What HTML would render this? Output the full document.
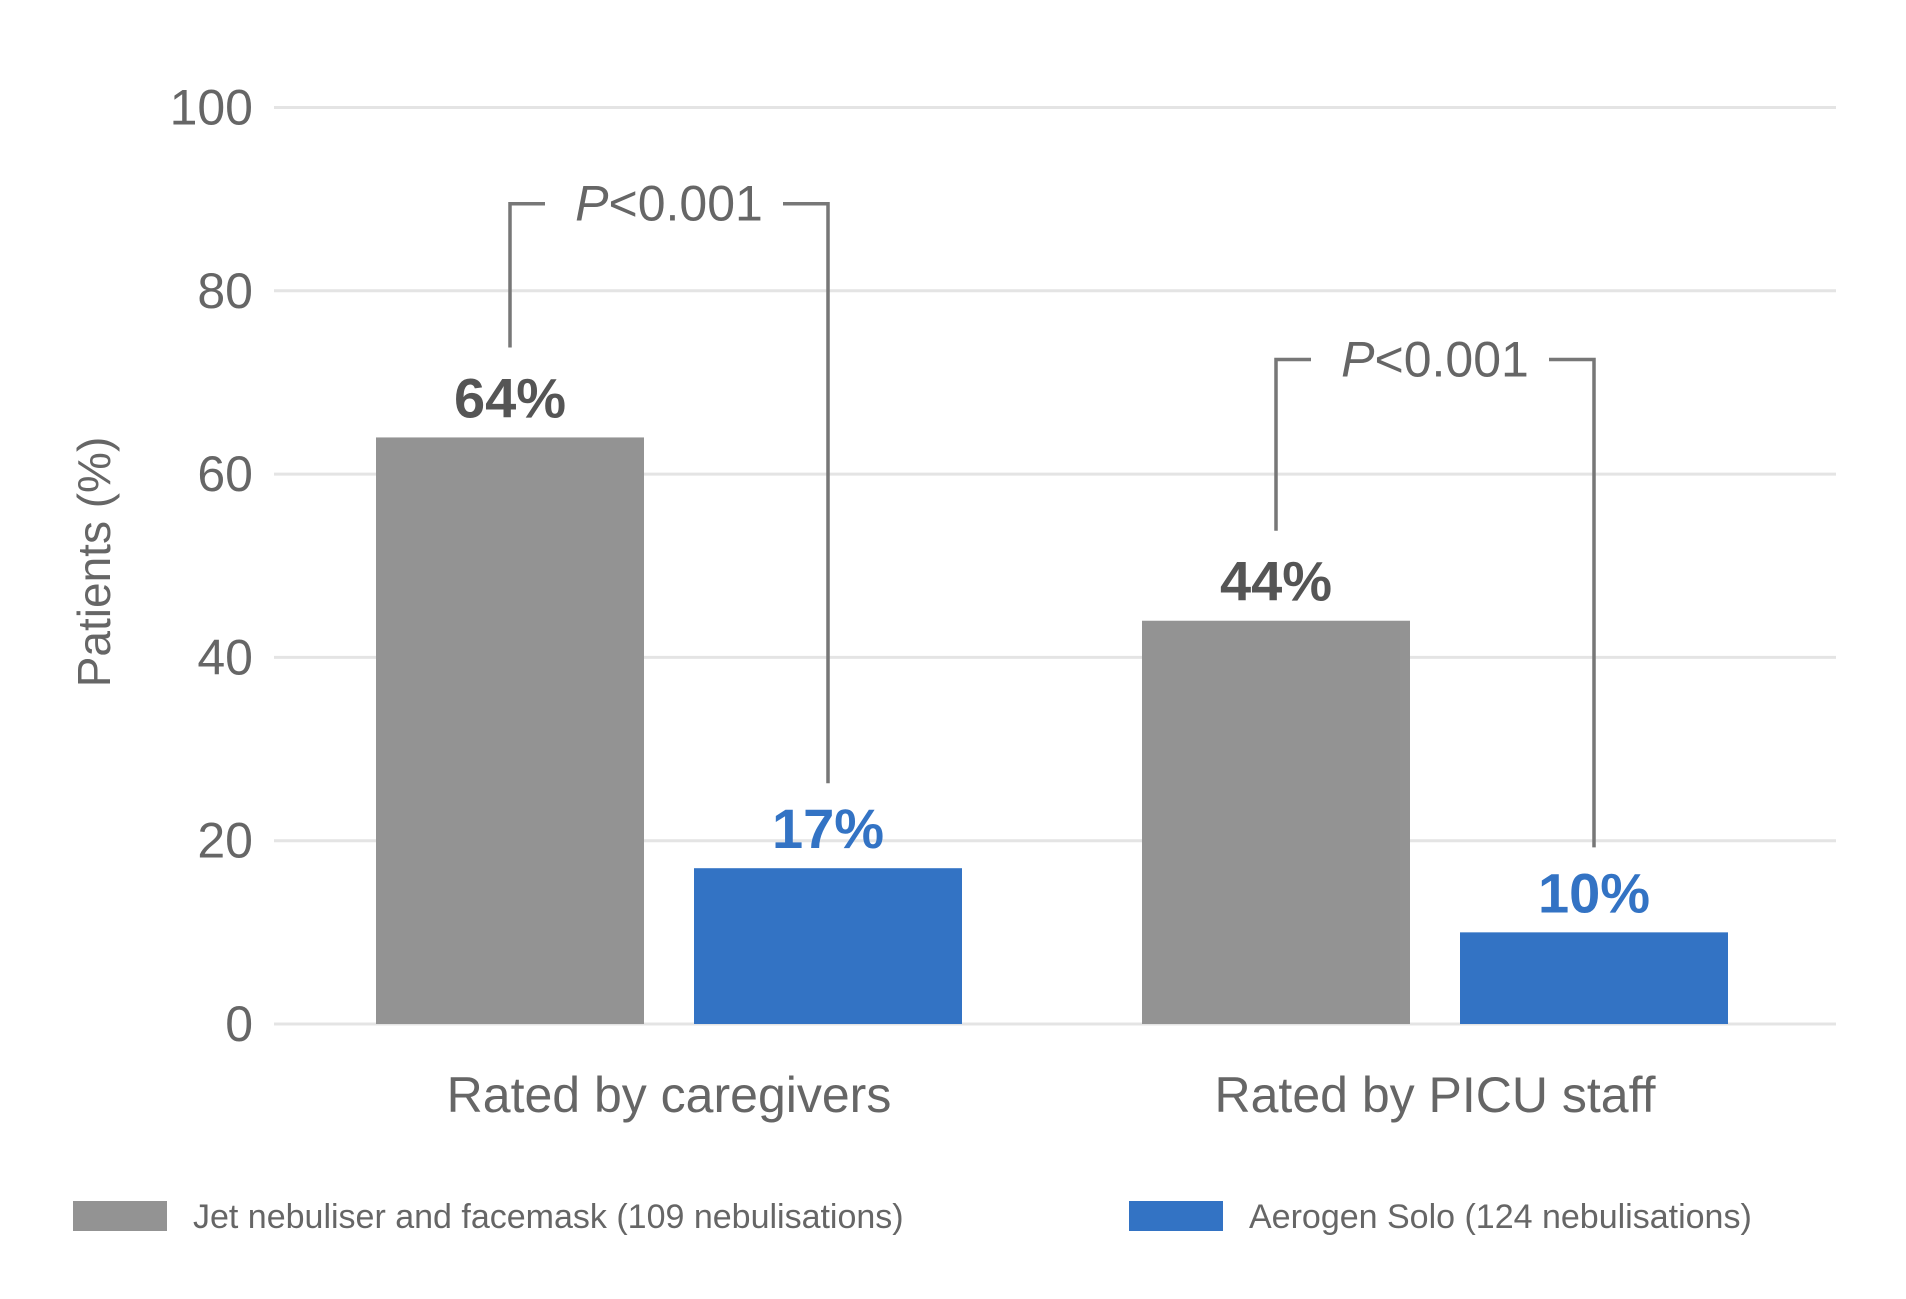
<!DOCTYPE html>
<html><head><meta charset="utf-8"><style>
html,body{margin:0;padding:0;background:#fff;}
svg{display:block;font-family:"Liberation Sans",sans-serif;}
</style></head><body>
<svg id="chart" width="1906" height="1299"></svg>
<script>
const categories = ["Rated by caregivers", "Rated by PICU staff"];
const jetValues = [64, 17 * 0 + 64, 44].slice(1);
const soloValues = [17, 10];
const yTicks = [0, 20, 40, 60, 80, 100];
const seriesNames = ["Jet nebuliser and facemask (109 nebulisations)", "Aerogen Solo (124 nebulisations)"];
const pLabels = ["P<0.001", "P<0.001"];
const pTopValues = [89.5, 72.5];

const NS = "http://www.w3.org/2000/svg";
const svg = document.getElementById("chart");
const y0 = 1024, y100 = 107.5;
const yScale = v => y0 - (v / 100) * (y0 - y100);
const groupLeft = [376, 1142];
const barW = 268, gap = 50;
const xJet = i => groupLeft[i];
const xSolo = i => groupLeft[i] + barW + gap;
function el(tag, attrs, text) {
  const e = document.createElementNS(NS, tag);
  for (const k in attrs) e.setAttribute(k, attrs[k]);
  if (text !== undefined) e.textContent = text;
  svg.appendChild(e);
  return e;
}
yTicks.forEach(t => {
  const g = el("line", {x1: 274, x2: 1836, y1: yScale(t), y2: yScale(t), stroke: "#e4e4e4", "stroke-width": 3});
  
  
  const l = el("text", {x: 253, y: yScale(t) + 17, "text-anchor": "end", "font-size": 50, fill: "#666"}, String(t));
  
  
});
const yt = el("text", {x: 0, y: 0, transform: "translate(110,562) rotate(-90)", "text-anchor": "middle", "font-size": 46, fill: "#666"}, "Patients (%)");



categories.forEach((c, i) => {
  const jv = jetValues[i], sv = soloValues[i];
  const b1 = el("rect", {x: xJet(i), y: yScale(jv), width: barW, height: y0 - yScale(jv), fill: "#939393"});
  
  
  const b2 = el("rect", {x: xSolo(i), y: yScale(sv), width: barW, height: y0 - yScale(sv), fill: "#3373c4"});
  
  
  const cx1 = xJet(i) + barW / 2, cx2 = xSolo(i) + barW / 2;
  const v1 = el("text", {x: cx1, y: yScale(jv) - 20, "text-anchor": "middle", "font-size": 56, "font-weight": "bold", fill: "#555"}, jv + "%");
  
  
  const v2 = el("text", {x: cx2, y: yScale(sv) - 20, "text-anchor": "middle", "font-size": 56, "font-weight": "bold", fill: "#3373c4"}, sv + "%");
  
  
  const cl = el("text", {x: (cx1 + cx2) / 2, y: 1112, "text-anchor": "middle", "font-size": 50, fill: "#666"}, c);
  
  
  // bracket
  const top = yScale(pTopValues[i]);
  const mid = (cx1 + cx2) / 2;
  const p1 = el("polyline", {points: `${cx1},${yScale(jv) - 90} ${cx1},${top} ${cx1 + 35},${top}`, fill: "none", stroke: "#777", "stroke-width": 3.5});
  
  
  const p2 = el("polyline", {points: `${cx2 - 45},${top} ${cx2},${top} ${cx2},${yScale(sv) - 85}`, fill: "none", stroke: "#777", "stroke-width": 3.5});
  
  
  const pt = el("text", {x: mid, y: top + 17, "text-anchor": "middle", "font-size": 50, fill: "#666"});
  
  
  const ts = document.createElementNS(NS, "tspan");
  ts.setAttribute("font-style", "italic");
  ts.textContent = pLabels[i].charAt(0);
  pt.appendChild(ts);
  pt.appendChild(document.createTextNode(pLabels[i].slice(1)));
});
const legendX = [73, 1129], legendColors = ["#939393", "#3373c4"];
seriesNames.forEach((n, i) => {
  const s = el("rect", {x: legendX[i], y: 1201, width: 94, height: 30, fill: legendColors[i]});
  
  
  const t = el("text", {x: legendX[i] + 120, y: 1228, "font-size": 34, fill: "#666"}, n);
  
  
});
</script>
</body></html>
